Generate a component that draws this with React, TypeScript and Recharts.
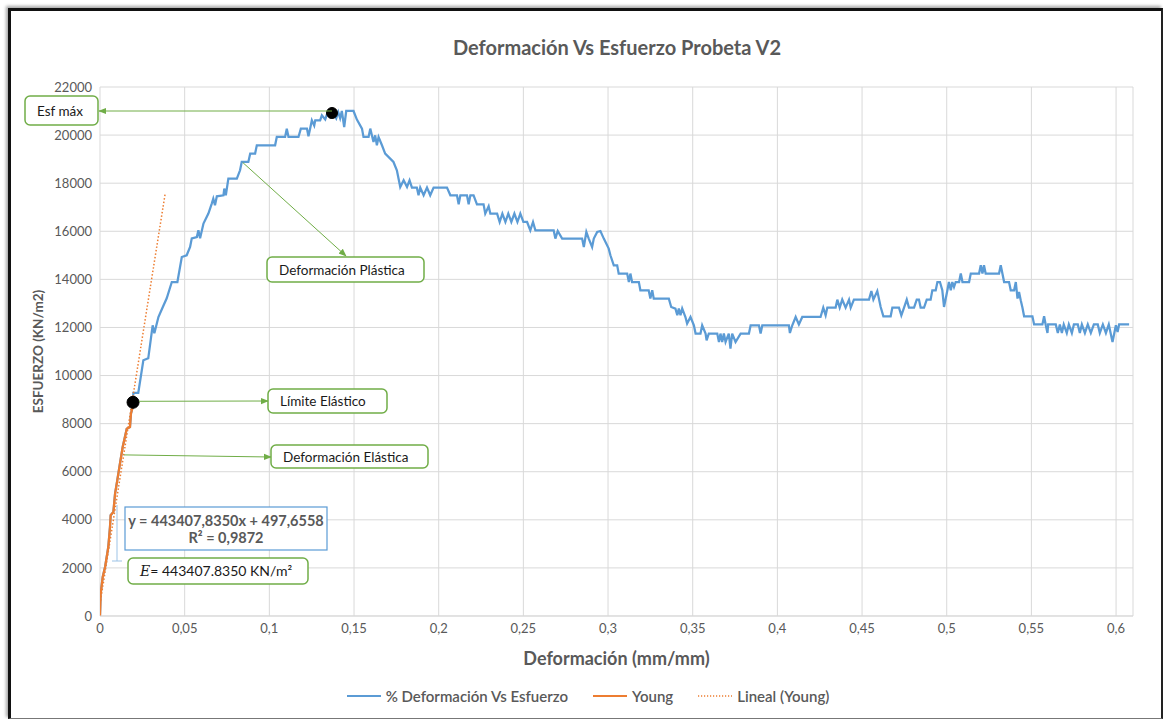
import {
  ComposedChart,
  Line,
  XAxis,
  YAxis,
  CartesianGrid,
  Legend,
  Label,
  ReferenceDot,
} from "recharts";

// strain (mm/mm) vs stress (KN/m2)
const blueX = [
  0, 0.0004, 0.0016, 0.003, 0.0049, 0.0059, 0.0063, 0.0079, 0.0089, 0.0102, 0.0118, 0.0134, 0.0158, 0.0177, 0.0183, 0.0193,
  0.0197, 0.0226, 0.0256, 0.0285, 0.0311, 0.0321, 0.0345, 0.0371, 0.0394, 0.0424, 0.0457, 0.0483, 0.0512, 0.0532, 0.0542,
  0.0572, 0.0581, 0.0591, 0.0611, 0.064, 0.066, 0.0669, 0.0679, 0.069, 0.0729, 0.0734, 0.0743, 0.0758, 0.0808, 0.0827,
  0.0837, 0.0876, 0.0887, 0.0916, 0.0926, 0.1034, 0.1044, 0.1093, 0.1103, 0.1113, 0.1172, 0.1186, 0.1222, 0.1231, 0.1241,
  0.1251, 0.1265, 0.1271, 0.13, 0.131, 0.133, 0.1342, 0.1359, 0.1377, 0.1395, 0.1407, 0.1418, 0.1428, 0.1442, 0.1454,
  0.1497, 0.1517, 0.1547, 0.1556, 0.1586, 0.1596, 0.1615, 0.1625, 0.1635, 0.1645, 0.1665, 0.1684, 0.1733, 0.1753, 0.1773,
  0.1793, 0.1813, 0.1828, 0.1842, 0.1871, 0.1881, 0.1891, 0.1911, 0.1931, 0.195, 0.197, 0.2049, 0.2069, 0.2108, 0.2118,
  0.2128, 0.2167, 0.2177, 0.2187, 0.2206, 0.2226, 0.2265, 0.2275, 0.2295, 0.2305, 0.2345, 0.236, 0.2376, 0.2394, 0.2411,
  0.2429, 0.2447, 0.2465, 0.2482, 0.25, 0.2522, 0.2541, 0.2557, 0.2571, 0.2679, 0.2689, 0.2703, 0.2729, 0.2847, 0.2857,
  0.2872, 0.2886, 0.2906, 0.2916, 0.2936, 0.2955, 0.2975, 0.3004, 0.3014, 0.3034, 0.3054, 0.3063, 0.3113, 0.3123, 0.3132,
  0.3142, 0.3182, 0.3191, 0.324, 0.325, 0.3261, 0.327, 0.3359, 0.3373, 0.3398, 0.3409, 0.3418, 0.3428, 0.3438, 0.3457,
  0.3467, 0.3487, 0.3507, 0.3517, 0.3546, 0.3556, 0.3576, 0.3582, 0.3595, 0.3645, 0.3655, 0.3664, 0.3674, 0.3684, 0.3694,
  0.3713, 0.3723, 0.3733, 0.3753, 0.3783, 0.3832, 0.3842, 0.3891, 0.3901, 0.3911, 0.4068, 0.4074, 0.4088, 0.4108, 0.4127,
  0.4147, 0.4255, 0.4271, 0.4285, 0.4295, 0.4344, 0.4354, 0.4368, 0.4383, 0.4403, 0.4423, 0.4433, 0.4452, 0.4541, 0.4555,
  0.4567, 0.459, 0.461, 0.4626, 0.4669, 0.4679, 0.4718, 0.4732, 0.4748, 0.4764, 0.4777, 0.4807, 0.4823, 0.4836, 0.4846,
  0.4866, 0.4882, 0.4905, 0.4915, 0.4935, 0.4945, 0.496, 0.4974, 0.4984, 0.5004, 0.5013, 0.5024, 0.5033, 0.5043, 0.5053,
  0.5073, 0.5083, 0.5093, 0.5132, 0.5142, 0.5191, 0.5201, 0.5211, 0.522, 0.523, 0.5309, 0.5319, 0.5339, 0.5368, 0.5378,
  0.5398, 0.5408, 0.5418, 0.5427, 0.5437, 0.5447, 0.5457, 0.5506, 0.5516, 0.5565, 0.5575, 0.5585, 0.5595, 0.5599, 0.5644,
  0.5656, 0.5668, 0.568, 0.5691, 0.5709, 0.5721, 0.5739, 0.5751, 0.5774, 0.5786, 0.5798, 0.5816, 0.5833, 0.5851, 0.5869,
  0.5892, 0.5904, 0.5922, 0.594, 0.5957, 0.5979, 0.5999, 0.6009, 0.6018, 0.6077,
];
const blueY = [
  0, 930, 1620, 2040, 2870, 3700, 4190, 4330, 5090, 5640, 6340, 7030, 7790, 7860, 8420, 8690,
  9275, 9275, 10634, 10718, 12090, 11757, 12435, 12851, 13213, 13890, 13890, 14930, 15001, 15346, 15708,
  15762, 16040, 15708, 16319, 16735, 17151, 17359, 17080, 17455, 17496, 17775, 17496, 18191, 18191, 18536,
  18881, 18881, 19231, 19231, 19576, 19576, 19921, 19921, 20270, 19921, 19921, 20270, 20270, 19950, 20270,
  20616, 20400, 20616, 20616, 20823, 20650, 20900, 20740, 20950, 20700, 20950, 20700, 21002, 20337, 21002,
  21002, 20644, 20270, 19921, 19921, 20270, 19713, 19990, 19576, 19921, 19576, 19231, 18881, 18536, 17842,
  18120, 17842, 18120, 17817, 17817, 17496, 17817, 17496, 17817, 17496, 17817, 17817, 17496, 17496, 17122,
  17496, 17496, 17122, 17496, 17496, 17122, 17122, 16735, 17040, 16735, 16735, 16386, 16735, 16386, 16735,
  16386, 16735, 16386, 16735, 16386, 16386, 16040, 16386, 16040, 16040, 15695, 16010, 15695, 15695, 15346,
  15970, 15695, 15346, 15695, 15970, 16010, 15695, 15279, 15001, 14585, 14585, 14240, 14240, 13890, 14240,
  13890, 13890, 13545, 13545, 13200, 13545, 13200, 13200, 12851, 12785, 12506, 12785, 12506, 12785, 12435,
  12160, 12435, 12090, 11745, 11745, 12090, 11745, 11466, 11745, 11745, 11395, 11745, 11395, 11745, 11395,
  11745, 11120, 11745, 11395, 11745, 11745, 12090, 12090, 11745, 12090, 12090, 11770, 12090, 12435, 12124,
  12435, 12435, 12826, 12506, 12826, 12826, 13158, 12826, 13158, 12826, 13158, 12826, 13158, 13158, 13516,
  13158, 13516, 12851, 12465, 12465, 12826, 12826, 12506, 12826, 13158, 12826, 12826, 13158, 13158, 12826,
  12826, 13158, 13158, 13545, 13545, 13890, 13890, 13545, 12851, 13545, 13890, 13545, 13890, 13680, 13890,
  13890, 14240, 13890, 13890, 14240, 14240, 14585, 14240, 14585, 14240, 14240, 14585, 13890, 13890, 13545,
  13545, 13890, 13200, 13475, 13130, 12826, 12465, 12465, 12124, 12124, 12465, 12090, 11770, 12124, 12124,
  11770, 12124, 11770, 12124, 11770, 12124, 11770, 12124, 12124, 11770, 12124, 11770, 12124, 11770, 12124,
  12124, 11770, 12124, 11770, 12124, 11395, 12090, 11810, 12124, 12124,
];

// elastic zone (Young)
const youngX = [0, 0.0004, 0.0016, 0.003, 0.0049, 0.0059, 0.0063, 0.0079, 0.0089, 0.0102, 0.0118, 0.0134, 0.0158, 0.0177, 0.0183, 0.0193, 0.0195];
const youngY = [0, 930, 1620, 2040, 2870, 3700, 4190, 4330, 5090, 5640, 6340, 7030, 7790, 7860, 8420, 8690, 8890];

// linear trend of Young, end points as drawn
const trendX = [0, 0.0385];
const trendY = [498, 17570];

const xTicks = [0, 0.05, 0.1, 0.15, 0.2, 0.25, 0.3, 0.35, 0.4, 0.45, 0.5, 0.55, 0.6];
const yTicks = [0, 2000, 4000, 6000, 8000, 10000, 12000, 14000, 16000, 18000, 20000, 22000];

const maxPoint = { x: 0.137, y: 20919 };
const yieldPoint = { x: 0.0195, y: 8887 };
const elasticPoint = { x: 0.0142, y: 6700 };
const plasticPoint = { x: 0.0843, y: 18860 };

const blueData = blueX.map((x, i) => ({ x, y: blueY[i] }));
const youngData = youngX.map((x, i) => ({ x, y: youngY[i] }));
const trendData = trendX.map((x, i) => ({ x, y: trendY[i] }));

const FONT = "Lato, 'Open Sans', sans-serif";
const GRAY = "#595959";
const GREEN = "#70AD47";
const W = 1163;
const H = 719;
const PLOT = { left: 100, top: 87, right: 1133, bottom: 616 };
const X_MAX = 0.61;
const Y_MAX = 22000;

const px = (x: number) => PLOT.left + (x / X_MAX) * (PLOT.right - PLOT.left);
const py = (y: number) => PLOT.bottom - (y / Y_MAX) * (PLOT.bottom - PLOT.top);

const legendItems = [
  { name: "% Deformación Vs Esfuerzo", color: "#5B9BD5", dash: undefined as string | undefined, width: 2 },
  { name: "Young", color: "#ED7D31", dash: undefined as string | undefined, width: 2 },
  { name: "Lineal (Young)", color: "#ED7D31", dash: "1.2 1.8", width: 1.3 },
];

function LegendBox() {
  return (
    <div style={{ display: "flex", justifyContent: "center", height: 24, alignItems: "center", fontFamily: FONT, fontSize: 15, fontWeight: 600, color: GRAY, paddingLeft: 12 }}>
      {legendItems.map((it) => (
        <div key={it.name} style={{ display: "flex", alignItems: "center", margin: "0 12px" }}>
          <svg width={36} height={10} style={{ marginRight: 4 }}>
            <line x1={1} y1={5} x2={35} y2={5} stroke={it.color} strokeWidth={it.width} strokeDasharray={it.dash} />
          </svg>
          <span>{it.name}</span>
        </div>
      ))}
    </div>
  );
}

function NoteBox({ x, y, w, h, text, tx }: { x: number; y: number; w: number; h: number; text: string; tx: number }) {
  return (
    <g>
      <rect x={x} y={y} width={w} height={h} rx={5} fill="#fff" stroke={GREEN} strokeWidth={1.5} />
      <text x={tx} y={y + h / 2 + 5} fontFamily={FONT} fontSize={13.5} fill="#1a1a1a">{text}</text>
    </g>
  );
}

function Overlay() {
  const maxP = { x: px(maxPoint.x), y: py(maxPoint.y) };
  const yldP = { x: px(yieldPoint.x), y: py(yieldPoint.y) };
  const elP = { x: px(elasticPoint.x), y: py(elasticPoint.y) };
  const plP = { x: px(plasticPoint.x), y: py(plasticPoint.y) };
  return (
    <svg width={W} height={H} style={{ position: "absolute", left: 0, top: 0, pointerEvents: "none" }}>
      <defs>
        <marker id="arr" viewBox="0 0 10 10" refX="9" refY="5" markerWidth="8" markerHeight="8" orient="auto-start-reverse">
          <path d="M0,1 L10,5 L0,9 z" fill={GREEN} />
        </marker>
      </defs>
      <text x={617} y={55} textAnchor="middle" fontFamily={FONT} fontSize={20} fontWeight="bold" fill={GRAY}>
        Deformación Vs Esfuerzo Probeta V2
      </text>

      <line x1={maxP.x} y1={111} x2={99} y2={111} stroke={GREEN} strokeWidth={1} markerEnd="url(#arr)" />
      <line x1={plP.x} y1={plP.y} x2={346} y2={256} stroke={GREEN} strokeWidth={1} markerEnd="url(#arr)" />
      <line x1={yldP.x + 6} y1={yldP.y - 1} x2={268} y2={401} stroke={GREEN} strokeWidth={1} markerEnd="url(#arr)" />
      <line x1={elP.x} y1={elP.y} x2={271} y2={457} stroke={GREEN} strokeWidth={1} markerEnd="url(#arr)" />

      <NoteBox x={25} y={96} w={73} h={29} text="Esf máx" tx={37} />
      <NoteBox x={267} y={257} w={157} h={25} text="Deformación Plástica" tx={279} />
      <NoteBox x={268} y={389} w={119} h={24} text="Límite Elástico" tx={280} />
      <NoteBox x={271} y={445} w={157} h={23} text="Deformación Elástica" tx={283} />

      <line x1={117} y1={505} x2={117} y2={561} stroke="#9DC3E6" strokeWidth={1} />
      <line x1={112} y1={561} x2={122} y2={561} stroke="#9DC3E6" strokeWidth={1} />

      <rect x={125} y={507} width={202} height={43} fill="#fff" stroke="#5B9BD5" strokeWidth={1.2} />
      <text x={226} y={526} textAnchor="middle" fontFamily={FONT} fontSize={14.5} fontWeight="bold" fill={GRAY}>
        y = 443407,8350x + 497,6558
      </text>
      <text x={226} y={543} textAnchor="middle" fontFamily={FONT} fontSize={14.5} fontWeight="bold" fill={GRAY}>
        R² = 0,9872
      </text>

      <rect x={128} y={558} width={180} height={26} rx={5} fill="#fff" stroke={GREEN} strokeWidth={1.5} />
      <text x={140} y={576} fontFamily={FONT} fontSize={14} fill="#1a1a1a">
        <tspan fontFamily="'DejaVu Serif', serif" fontStyle="italic">E</tspan>
        <tspan>= 443407.8350 KN/m²</tspan>
      </text>
    </svg>
  );
}

export default function App() {
  return (
    <div style={{ position: "fixed", left: 0, top: 0, width: W, height: H, background: "#fff" }}>
      <div
        style={{
          position: "absolute",
          left: 8,
          top: 8,
          width: 1150,
          height: 707,
          borderLeft: "3px solid #111",
          borderTop: "3px solid #111",
          borderRight: "2px solid #222",
          borderBottom: "1px solid #777",
          boxShadow: "-2px -2px 3px rgba(0,0,0,0.35)",
        }}
      />
      <div style={{ position: "absolute", left: 0, top: 0 }}>
        <ComposedChart width={W} height={H} margin={{ top: 87, right: 30, left: 30, bottom: 27 }}>
          <CartesianGrid stroke="#D9D9D9" strokeWidth={1} />
          <XAxis
            type="number"
            dataKey="x"
            domain={[0, X_MAX]}
            ticks={xTicks}
            allowDataOverflow
            height={52}
            tickLine={false}
            axisLine={{ stroke: "#D9D9D9" }}
            tick={{ fill: GRAY, fontSize: 13, fontFamily: FONT }}
            tickFormatter={(v: number) => String(v).replace(".", ",")}
          >
            <Label
              value="Deformación (mm/mm)"
              position="insideBottom"
              offset={3}
              style={{ fill: GRAY, fontSize: 18, fontWeight: "bold", fontFamily: FONT }}
            />
          </XAxis>
          <YAxis
            type="number"
            domain={[0, Y_MAX]}
            ticks={yTicks}
            width={70}
            tickLine={false}
            axisLine={false}
            tick={{ fill: GRAY, fontSize: 13, fontFamily: FONT }}
          >
            <Label
              value="ESFUERZO (KN/m2)"
              angle={-90}
              position="insideLeft"
              offset={8}
              style={{ textAnchor: "middle", fill: GRAY, fontSize: 13.5, fontWeight: "bold", fontFamily: FONT }}
            />
          </YAxis>
          <Legend verticalAlign="bottom" content={() => <LegendBox />} wrapperStyle={{ bottom: 11 }} />
          <Line
            data={blueData}
            dataKey="y"
            name="% Deformación Vs Esfuerzo"
            stroke="#5B9BD5"
            strokeWidth={2.25}
            dot={false}
            isAnimationActive={false}
          />
          <Line
            data={youngData}
            dataKey="y"
            name="Young"
            stroke="#ED7D31"
            strokeWidth={2.25}
            dot={false}
            isAnimationActive={false}
          />
          <Line
            data={trendData}
            dataKey="y"
            name="Lineal (Young)"
            stroke="#ED7D31"
            strokeWidth={1.5}
            strokeDasharray="1.5 2"
            dot={false}
            isAnimationActive={false}
          />
          <ReferenceDot x={maxPoint.x} y={maxPoint.y} r={5.5} fill="#000" stroke="#000" />
          <ReferenceDot x={yieldPoint.x} y={yieldPoint.y} r={6} fill="#000" stroke="#000" />
        </ComposedChart>
      </div>
      <Overlay />
    </div>
  );
}
